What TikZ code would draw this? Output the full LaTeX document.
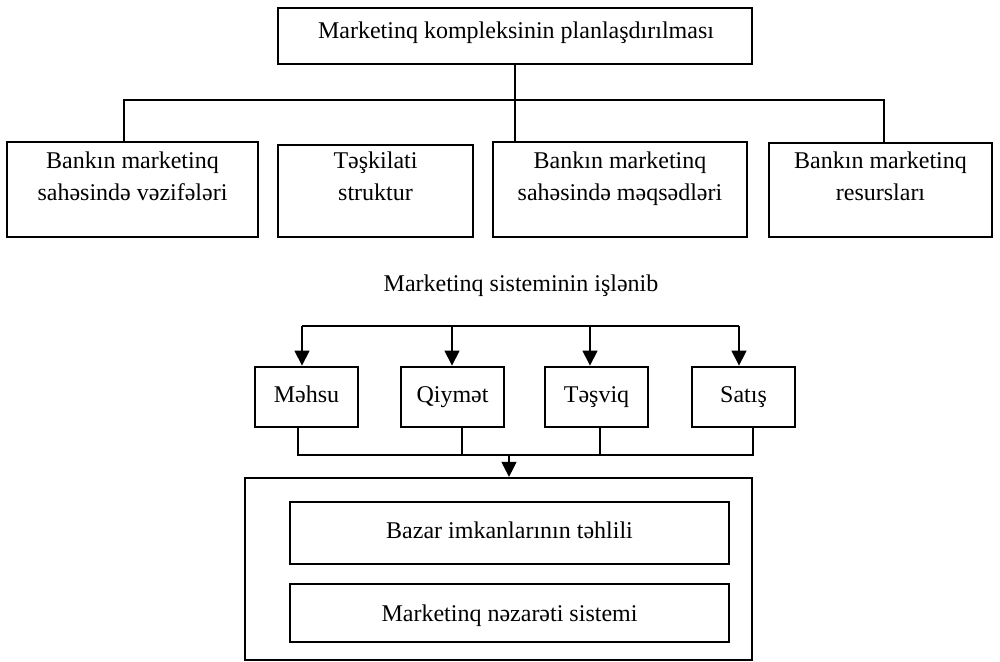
\documentclass[tikz,border=0pt]{standalone}
\usepackage{fontspec}
\setmainfont{Liberation Serif}
\usetikzlibrary{arrows.meta,fit}
\begin{document}
\begin{tikzpicture}[x=0.5pt,y=-0.5pt,
  font=\fontsize{12}{16}\selectfont,
  box/.style={draw, line width=1.1pt, inner sep=0pt},
  thickbox/.style={draw, line width=1.4pt, inner sep=0pt},
  txt/.style={inner sep=0pt, align=center, anchor=base},
  conn/.style={line width=0.6pt},
  arr/.style={line width=0.6pt, -{Triangle[width=7.5pt,length=7.5pt]}}]
\useasboundingbox (0,0) rectangle (1000,662);

% top level
\node[box, fit={(278,8) (752,64)}] (top) {};
\node[txt] (topt) at (516,39) {Marketinq kompleksinin planlaşdırılması};

% second row
\node[box, fit={(7,142) (258,237)}] (b1) {};
\node[box, fit={(278,145) (473,237)}] (b2) {};
\node[box, fit={(493,142) (747,237)}] (b3) {};
\node[box, fit={(769,143) (992,237)}] (b4) {};
\node[txt] (b1t) at (132.5,201) {Bankın marketinq\\sahəsində vəzifələri};
\node[txt] (b2t) at (375.5,201) {Təşkilati\\struktur};
\node[txt] (b3t) at (620,201) {Bankın marketinq\\sahəsində məqsədləri};
\node[txt] (b4t) at (880.5,201) {Bankın marketinq\\resursları};

\coordinate (h1) at (124,100);
\coordinate (h3) at (515,100);
\coordinate (h4) at (884,100);
\draw[conn] (top.south) -- (h3);
\draw[conn] (h1 |- b1.north) -- (h1) -- (h4) -- (h4 |- b4.north);
\draw[conn] (h3) -- (h3 |- b3.north);

% marketing mix
\node[txt] (mst) at (521,292) {Marketinq sisteminin işlənib};

\node[thickbox, fit={(255,367) (358,427)}] (m1) {};
\node[thickbox, fit={(401,367) (504,427)}] (m2) {};
\node[thickbox, fit={(545,367) (648,427)}] (m3) {};
\node[thickbox, fit={(692,367) (795,427)}] (m4) {};
\node[txt] (m1t) at (306.5,402) {Məhsu};
\node[txt] (m2t) at (452.5,402) {Qiymət};
\node[txt] (m3t) at (596.5,402) {Təşviq};
\node[txt] (m4t) at (743.5,402) {Satış};

\coordinate (u1) at (302,326);
\coordinate (u2) at (452,326);
\coordinate (u3) at (590,326);
\coordinate (u4) at (739,326);
\draw[conn] (u1) -- (u4);
\draw[arr] (u1) -- (u1 |- m1.north);
\draw[arr] (u2) -- (u2 |- m2.north);
\draw[arr] (u3) -- (u3 |- m3.north);
\draw[arr] (u4) -- (u4 |- m4.north);

\coordinate (d1) at (298,455);
\coordinate (d2) at (462,455);
\coordinate (d3) at (600,455);
\coordinate (d4) at (753,455);
\coordinate (dm) at (509,455);
\draw[conn] (d1 |- m1.south) -- (d1) -- (d4) -- (d4 |- m4.south);
\draw[conn] (d2 |- m2.south) -- (d2);
\draw[conn] (d3 |- m3.south) -- (d3);

% analysis and control block
\node[box, fit={(245,478) (752,660)}] (big) {};
\draw[arr] (dm) -- (dm |- big.north);
\node[box, fit={(290,502) (729,564)}] (in1) {};
\node[box, fit={(290,584) (729,642)}] (in2) {};
\node[txt] (in1t) at (509.5,538) {Bazar imkanlarının təhlili};
\node[txt] (in2t) at (509.5,621) {Marketinq nəzarəti sistemi};
\end{tikzpicture}
\end{document}
